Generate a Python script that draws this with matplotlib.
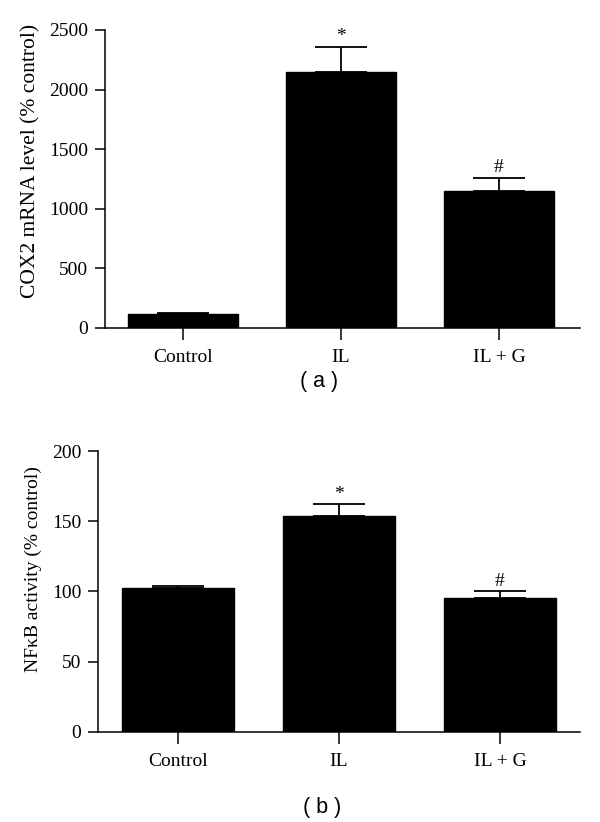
import matplotlib
matplotlib.use("Agg")
import matplotlib.pyplot as plt
import numpy as np

plt.rcParams['font.family'] = ['Liberation Serif', 'DejaVu Serif']

# data
groups = ["Control", "IL", "IL + G"]

cox2_mean = [118, 2150, 1150]
cox2_err = [7, 210, 112]
cox2_marks = ["", "*", "#"]

nfkb_mean = [102.5, 153.5, 95.5]
nfkb_err = [1.5, 8.5, 4.5]
nfkb_marks = ["", "*", "#"]

yticks_a = [0, 500, 1000, 1500, 2000, 2500]
yticks_b = [0, 50, 100, 150, 200]


def bar_panel(ax, means, errs, marks, yticks, ylabel, xlim, labelsize, labelpos):
    x = np.arange(len(groups))
    ax.bar(x, means, width=0.7, color="black", edgecolor="black", zorder=2)
    ax.errorbar(x, means, yerr=[np.zeros(len(errs)), errs], fmt="none",
                ecolor="black", elinewidth=1.3, capsize=19, capthick=1.3, zorder=1)
    top = max(yticks)
    for xi, m, e, s in zip(x, means, errs, marks):
        if s:
            ax.annotate(s, (xi, m + e), xytext=(0, 1), textcoords="offset points",
                        ha="center", va="bottom", fontsize=14)
    ax.set_xlim(xlim)
    ax.set_ylim(0, top)
    ax.set_xticks(x)
    ax.set_xticklabels(groups, fontsize=14)
    ax.set_yticks(yticks)
    ax.set_yticklabels([str(t) for t in yticks], fontsize=14)
    ax.set_ylabel(ylabel, fontsize=labelsize)
    ax.yaxis.set_label_coords(*labelpos)
    for side in ["top", "right"]:
        ax.spines[side].set_visible(False)
    for side in ["left", "bottom"]:
        ax.spines[side].set_linewidth(1.1)
    ax.tick_params(axis="x", direction="out", length=8.5, width=1.1, pad=6.5)
    ax.tick_params(axis="y", direction="out", length=7, width=1.1, pad=5)


fig = plt.figure(figsize=(6, 8.22), dpi=100)

ax1 = fig.add_axes([105 / 600, 1 - 328 / 822, 475 / 600, 298 / 822])
bar_panel(ax1, cox2_mean, cox2_err, cox2_marks, yticks_a,
          "COX2 mRNA level (% control)", (-0.494, 2.513), 15.5, (-0.135, 0.559))

ax2 = fig.add_axes([98 / 600, 1 - 731.7 / 822, 482 / 600, 280.7 / 822])
bar_panel(ax2, nfkb_mean, nfkb_err, nfkb_marks, yticks_b,
          "NF\u03baB activity (% control)", (-0.497, 2.497), 14, (-0.116, 0.581))

fig.text(319 / 600, 1 - 381 / 822, "( a )", family="Liberation Sans",
         fontsize=15.5, ha="center", va="center")
fig.text(322 / 600, 1 - 807 / 822, "( b )", family="Liberation Sans",
         fontsize=15.5, ha="center", va="center")

fig.savefig("out.png", dpi=100)
